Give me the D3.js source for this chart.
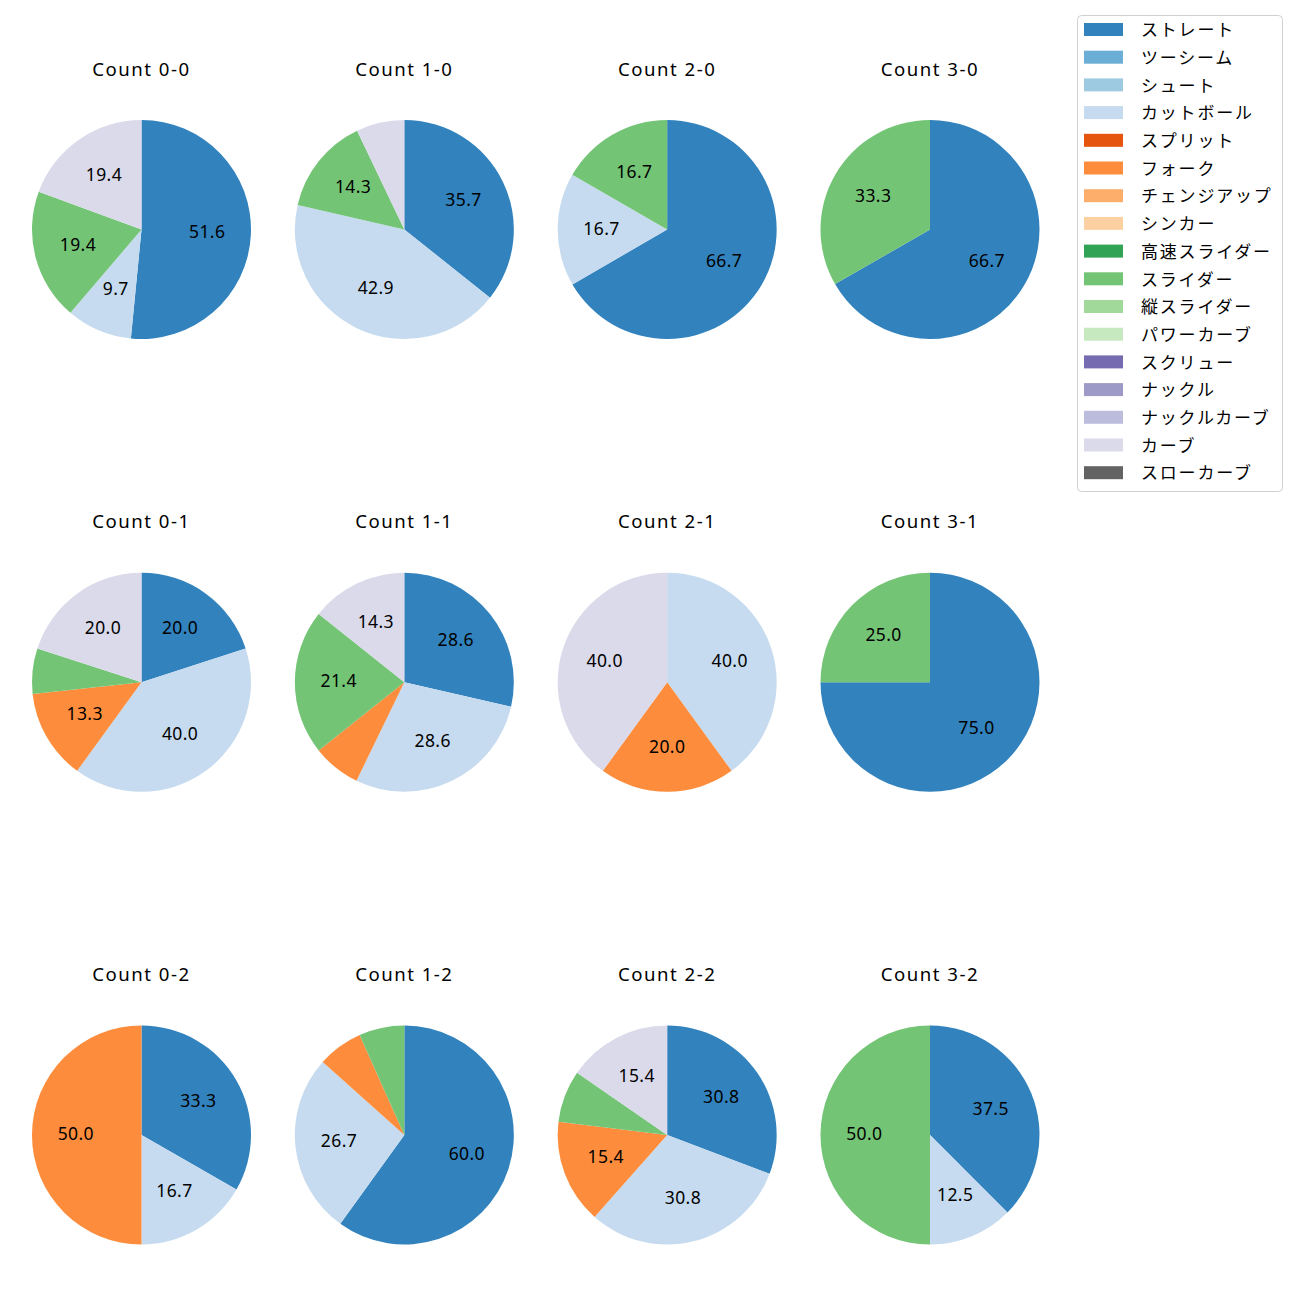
<!DOCTYPE html>
<html>
<head>
<meta charset="utf-8">
<script src="https://cdn.jsdelivr.net/npm/d3@7"></script>
<style>
  html, body { margin: 0; padding: 0; background: #ffffff; }
  svg { display: block; }
  text { font-family: "Noto Sans", "Noto Sans CJK JP", sans-serif; }
  text.jp { font-family: "Noto Sans CJK JP", sans-serif; }
</style>
</head>
<body>
<svg id="chart" width="1300" height="1300"></svg>
<script>
// ---- data ----
const pitchTypes = ["ストレート","ツーシーム","シュート","カットボール","スプリット","フォーク","チェンジアップ","シンカー","高速スライダー","スライダー","縦スライダー","パワーカーブ","スクリュー","ナックル","ナックルカーブ","カーブ","スローカーブ"];
const pitchColors = ["#3182bd","#6baed6","#9ecae1","#c6dbef","#e6550d","#fd8d3c","#fdae6b","#fdd0a2","#31a354","#74c476","#a1d99b","#c7e9c0","#756bb1","#9e9ac8","#bcbddc","#dadaeb","#636363"];
const countTitles = ["Count 0-0","Count 1-0","Count 2-0","Count 3-0",
                     "Count 0-1","Count 1-1","Count 2-1","Count 3-1",
                     "Count 0-2","Count 1-2","Count 2-2","Count 3-2"];
// pitch-type share (%) per count, in legend order: [type, pct]
const count00 = [["ストレート",51.6],["カットボール",9.7],["スライダー",19.4],["カーブ",19.4]];
const count10 = [["ストレート",35.7],["カットボール",42.9],["スライダー",14.3],["カーブ",7.1]];
const count20 = [["ストレート",66.7],["カットボール",16.7],["スライダー",16.7]];
const count30 = [["ストレート",66.7],["スライダー",33.3]];
const count01 = [["ストレート",20.0],["カットボール",40.0],["フォーク",13.3],["スライダー",6.7],["カーブ",20.0]];
const count11 = [["ストレート",28.6],["カットボール",28.6],["フォーク",7.1],["スライダー",21.4],["カーブ",14.3]];
const count21 = [["カットボール",40.0],["フォーク",20.0],["カーブ",40.0]];
const count31 = [["ストレート",75.0],["スライダー",25.0]];
const count02 = [["ストレート",33.3],["カットボール",16.7],["フォーク",50.0]];
const count12 = [["ストレート",60.0],["カットボール",26.7],["フォーク",6.7],["スライダー",6.7]];
const count22 = [["ストレート",30.8],["カットボール",30.8],["フォーク",15.4],["スライダー",7.7],["カーブ",15.4]];
const count32 = [["ストレート",37.5],["カットボール",12.5],["スライダー",50.0]];
const countData = [count00,count10,count20,count30,count01,count11,count21,count31,count02,count12,count22,count32];
const minLabelPct = 8;

// ---- layout ----
const svg = d3.select("#chart");
const color = d3.scaleOrdinal().domain(pitchTypes).range(pitchColors);
const colX = d3.scalePoint().domain([0,1,2,3]).range([141.5, 930]);
const rowY = d3.scalePoint().domain([0,1,2]).range([229.5, 1135]);
const radius = 109.5;
const titleOffset = 161;

const pie = d3.pie().value(d => d[1]).sort(null).startAngle(0).endAngle(2*Math.PI);
const arc = d3.arc().innerRadius(0).outerRadius(radius);
const labelArc = d3.arc().innerRadius(radius*0.6).outerRadius(radius*0.6);

countData.forEach((data, i) => {
  const cx = colX(i % 4), cy = rowY(Math.floor(i / 4));
  const g = svg.append("g").attr("transform", `translate(${cx},${cy})`);
  const arcs = pie(data);
  g.selectAll("path").data(arcs).join("path")
    .attr("d", arc)
    .attr("fill", d => color(d.data[0]));
  g.selectAll("text.lbl").data(arcs.filter(d => d.data[1] >= minLabelPct)).join("text")
    .attr("class","lbl")
    .attr("transform", d => `translate(${labelArc.centroid(d)})`)
    .attr("text-anchor","middle")
    .attr("dominant-baseline","central")
    .attr("dy", -2)
    .attr("font-size", 17.5)
    .attr("letter-spacing", 0.4)
    .attr("fill","#000")
    .text(d => d.data[1].toFixed(1));
  svg.append("text")
    .attr("x", cx).attr("y", cy - titleOffset)
    .attr("text-anchor","middle")
    .attr("dominant-baseline","central")
    .attr("dy", -0.5)
    .attr("font-size", 18.6)
    .attr("letter-spacing", 1.5)
    .attr("fill","#000")
    .text(countTitles[i]);
});

// ---- legend ----
const legend = svg.append("g");
legend.append("rect")
  .attr("x", 1077.5).attr("y", 15.5).attr("width", 205).attr("height", 476)
  .attr("rx", 4).attr("ry", 4)
  .attr("fill", "#fff").attr("stroke", "#d0d0d0").attr("stroke-width", 1);
const legY = d3.scaleLinear().domain([0, pitchTypes.length - 1]).range([29.5, 472.7]);
const items = legend.selectAll("g.item").data(pitchTypes).join("g").attr("class","item")
  .attr("transform", (d, i) => `translate(0,${legY(i)})`);
items.append("rect")
  .attr("x", 1084).attr("y", -6.5).attr("width", 39).attr("height", 13)
  .attr("fill", d => color(d));
items.append("text")
  .attr("class","jp")
  .attr("x", 1141).attr("y", 0)
  .attr("dy", -0.8)
  .attr("dominant-baseline","central")
  .attr("font-size", 17)
  .attr("letter-spacing", 1.8)
  .attr("fill","#000")
  .text(d => d);
</script>
</body>
</html>
